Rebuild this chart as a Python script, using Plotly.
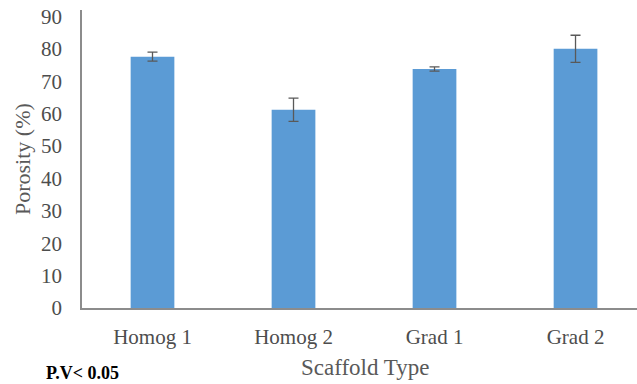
import plotly.graph_objects as go

categories = ["Homog 1", "Homog 2", "Grad 1", "Grad 2"]
porosity = [77.6, 61.2, 73.8, 80.0]
errors = [1.4, 3.6, 0.65, 4.2]
y_ticks = [0, 10, 20, 30, 40, 50, 60, 70, 80, 90]

FONT = "Liberation Serif"
TICK_COLOR = "#4d4d4d"
TITLE_COLOR = "#595959"
AXIS_COLOR = "#8c8c8c"

fig = go.Figure()
fig.add_trace(go.Bar(
    x=list(range(len(categories))),
    y=porosity,
    width=0.31,
    marker=dict(color="#5B9BD5", line=dict(width=0)),
    error_y=dict(type="data", array=errors, visible=True,
                 color="#595959", thickness=1.3, width=5),
))

fig.update_layout(
    width=637, height=384,
    margin=dict(l=82, r=0, t=10, b=76),
    paper_bgcolor="white", plot_bgcolor="white",
    showlegend=False,
    font=dict(family=FONT, color=TICK_COLOR),
    xaxis=dict(
        range=[-0.5, 3.436],
        tickmode="array",
        tickvals=list(range(len(categories))),
        ticktext=categories,
        showgrid=False, zeroline=False,
        showline=True, linecolor=AXIS_COLOR, linewidth=1.5,
        ticks="", ticklabelstandoff=9,
        tickfont=dict(family=FONT, size=21, color=TICK_COLOR),
    ),
    yaxis=dict(
        range=[0, 92],
        tickmode="array",
        tickvals=y_ticks,
        showgrid=False, zeroline=False,
        showline=True, linecolor=AXIS_COLOR, linewidth=1.5,
        ticks="", ticklabelstandoff=14,
        tickfont=dict(family=FONT, size=21, color=TICK_COLOR),
    ),
    annotations=[
        dict(text="Scaffold Type", xref="paper", yref="paper",
             x=0.51, y=0, yanchor="middle", yshift=-59, showarrow=False,
             font=dict(family=FONT, size=23, color=TITLE_COLOR)),
        dict(text="Porosity (%)", xref="paper", yref="paper",
             x=0, xshift=-60, y=0.5, xanchor="center", yanchor="middle",
             textangle=-90, showarrow=False,
             font=dict(family=FONT, size=22, color=TITLE_COLOR)),
        dict(text="<b>P.V< 0.05</b>", xref="paper", yref="paper",
             x=0, xanchor="left", xshift=-38, y=0, yanchor="middle",
             yshift=-65, showarrow=False,
             font=dict(family=FONT, size=18, color="black")),
    ],
)

fig.write_html("out.html")
